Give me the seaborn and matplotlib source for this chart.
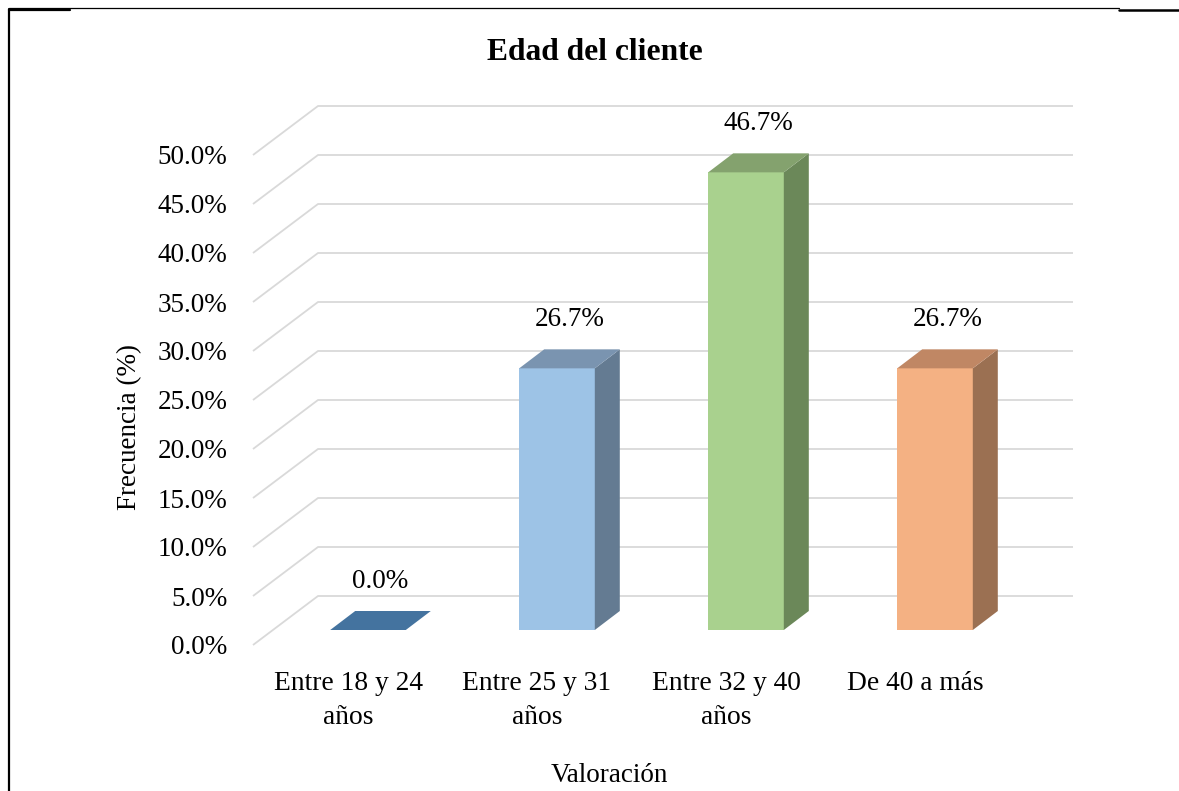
import numpy as np
import pandas as pd
import matplotlib
matplotlib.use("Agg")
import matplotlib.pyplot as plt
from matplotlib.patches import Polygon
from matplotlib.lines import Line2D
import seaborn as sns

# ---- data ----
categories = ["Entre 18 y 24\naños", "Entre 25 y 31\naños", "Entre 32 y 40\naños", "De 40 a más"]
values = [0.0, 26.7, 46.7, 26.7]
yticks = [0, 5, 10, 15, 20, 25, 30, 35, 40, 45, 50]
title = "Edad del cliente"
xlabel = "Valoración"
ylabel = "Frecuencia (%)"

front_colors = ["#5B9BD5", "#9DC3E6", "#A9D18E", "#F4B183"]
top_colors = ["#44739F", "#7A94B0", "#84A26E", "#C08764"]
side_colors = ["#3A6388", "#647B92", "#6B8859", "#9B7052"]

sns.set_style("white")
plt.rcParams["font.family"] = ["Liberation Serif", "DejaVu Serif"]
plt.rcParams["text.color"] = "black"
plt.rcParams["xtick.color"] = "black"
plt.rcParams["ytick.color"] = "black"
plt.rcParams["xtick.labelcolor"] = "black"
plt.rcParams["ytick.labelcolor"] = "black"

W, H = 1179, 791
fig = plt.figure(figsize=(W / 100, H / 100), dpi=100)
px_left, px_right, px_top, px_bot = 240, 1090, 90, 660
ax = fig.add_axes([px_left / W, 1 - px_bot / H, (px_right - px_left) / W, (px_bot - px_top) / H])

x0_px, step_px, base_px, unit_px = 368, 189, 630, 9.8

df = pd.DataFrame({"cat": categories, "val": values})
sns.barplot(data=df, x="cat", y="val", hue="cat", palette=front_colors, legend=False,
            width=0.4, saturation=1, ax=ax, zorder=3, edgecolor="none")

ax.set_xlim((px_left - x0_px) / step_px, (px_right - x0_px) / step_px)
ax.set_ylim((base_px - px_bot) / unit_px, (base_px - px_top) / unit_px)

# 3D geometry (offsets)
bar_dx, bar_dy = 25 / step_px, 19 / unit_px
front_dx, front_dy = -20 / step_px, -15 / unit_px
wall_dx, wall_dy = 65 / step_px, 5.0
x_front_left = (253 - x0_px) / step_px
x_back_right = (1073 - x0_px) / step_px

for t in yticks:
    yf = t + front_dy
    yb = yf + wall_dy
    ax.plot([x_front_left, x_front_left + wall_dx, x_back_right], [yf, yb, yb],
            color="#D9D9D9", lw=1.3, zorder=1, solid_capstyle="butt")

patches = sorted(ax.patches, key=lambda p: p.get_x())
for i, p in enumerate(patches):
    x, w, h = p.get_x(), p.get_width(), p.get_height()
    side = Polygon([(x + w, 0), (x + w + bar_dx, bar_dy), (x + w + bar_dx, h + bar_dy), (x + w, h)],
                   closed=True, facecolor=side_colors[i], edgecolor="none", zorder=3)
    top = Polygon([(x, h), (x + w, h), (x + w + bar_dx, h + bar_dy), (x + bar_dx, h + bar_dy)],
                  closed=True, facecolor=top_colors[i], edgecolor="none", zorder=4)
    ax.add_patch(side)
    ax.add_patch(top)
    ax.text(x + w / 2 + bar_dx / 2, h + bar_dy + 3.0, f"{values[i]:.1f}%",
            ha="center", va="center", fontsize=19.5, color="black", zorder=5)

ax.set_yticks([t + front_dy for t in yticks])
ax.set_yticklabels([f"{t:.1f}%" for t in yticks], fontsize=19.5)
ax.set_xticks([i + front_dx for i in range(len(categories))])
ax.set_xticklabels(categories, fontsize=19.8, linespacing=1.45)
ax.tick_params(axis="y", length=0, pad=9)
ax.tick_params(axis="x", length=0, pad=8)
ax.set_xlabel("")
ax.set_ylabel("")
for s in ax.spines.values():
    s.set_visible(False)
ax.set_facecolor("none")

fig.text(595 / W, 1 - 52 / H, title, ha="center", va="center", fontsize=22.7, fontweight="bold")
fig.text(609 / W, 1 - 776 / H, xlabel, ha="center", va="center", fontsize=19.5)
fig.text(130 / W, 1 - 427 / H, ylabel, ha="center", va="center", fontsize=19.5, rotation=90)

fig.add_artist(Line2D([9 / W, 9 / W], [1 - 9 / H, 0], color="black", lw=1.6))
fig.add_artist(Line2D([9 / W, 1119 / W], [1 - 8 / H, 1 - 8 / H], color="black", lw=0.9))
fig.add_artist(Line2D([9 / W, 70 / W], [1 - 9.5 / H, 1 - 9.5 / H], color="black", lw=1.6))
fig.add_artist(Line2D([1119 / W, 1.0], [1 - 9.5 / H, 1 - 9.5 / H], color="black", lw=1.8))

fig.savefig("out.png", dpi=100)
